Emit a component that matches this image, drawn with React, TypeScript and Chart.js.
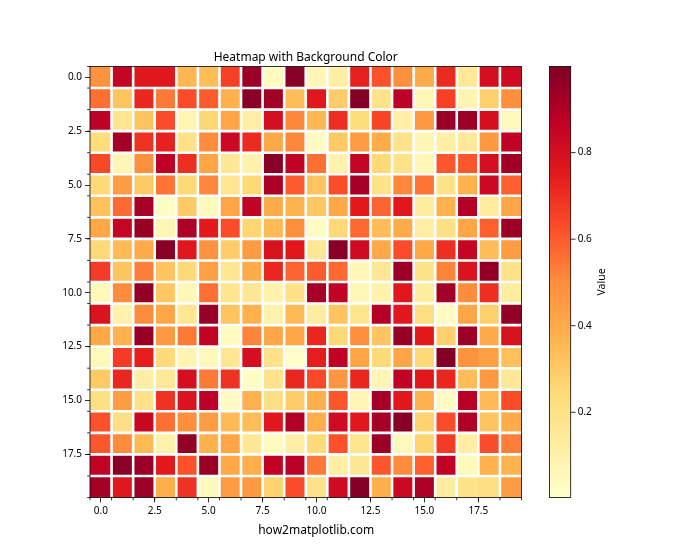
import React, { useEffect, useRef } from "react";
import { Chart, registerables } from "chart.js";

Chart.register(...registerables);

// ---- data (row by row) ----
const row00 = [0.48, 0.85, 0.76, 0.76, 0.36, 0.34, 0.66, 0.94, 0.04, 0.98, 0.07, 0.12, 0.73, 0.62, 0.49, 0.40, 0.71, 0.15, 0.80, 0.82];
const row01 = [0.56, 0.32, 0.72, 0.54, 0.63, 0.60, 0.38, 0.98, 0.93, 0.34, 0.76, 0.29, 0.99, 0.19, 0.87, 0.06, 0.66, 0.08, 0.28, 0.49];
const row02 = [0.87, 0.18, 0.32, 0.63, 0.07, 0.26, 0.42, 0.12, 0.80, 0.51, 0.36, 0.70, 0.23, 0.65, 0.11, 0.46, 0.94, 0.94, 0.80, 0.05];
const row03 = [0.23, 0.92, 0.69, 0.73, 0.20, 0.50, 0.83, 0.71, 0.41, 0.51, 0.03, 0.30, 0.45, 0.40, 0.19, 0.07, 0.11, 0.15, 0.46, 0.86];
const row04 = [0.64, 0.07, 0.49, 0.87, 0.70, 0.42, 0.16, 0.09, 0.98, 0.86, 0.56, 0.09, 0.85, 0.25, 0.19, 0.06, 0.61, 0.61, 0.80, 0.93];
const row05 = [0.25, 0.45, 0.30, 0.55, 0.25, 0.51, 0.17, 0.25, 0.91, 0.60, 0.32, 0.63, 0.92, 0.19, 0.51, 0.55, 0.19, 0.38, 0.83, 0.59];
const row06 = [0.33, 0.57, 0.92, 0.02, 0.30, 0.05, 0.42, 0.86, 0.40, 0.37, 0.31, 0.41, 0.75, 0.58, 0.76, 0.13, 0.38, 0.89, 0.14, 0.42];
const row07 = [0.41, 0.85, 0.95, 0.07, 0.91, 0.75, 0.63, 0.26, 0.35, 0.49, 0.02, 0.25, 0.57, 0.34, 0.40, 0.12, 0.21, 0.42, 0.59, 0.94];
const row08 = [0.25, 0.35, 0.40, 0.98, 0.76, 0.48, 0.29, 0.45, 0.79, 0.76, 0.16, 0.98, 0.82, 0.41, 0.63, 0.41, 0.70, 0.85, 0.34, 0.45];
const row09 = [0.67, 0.32, 0.53, 0.32, 0.25, 0.44, 0.17, 0.40, 0.72, 0.58, 0.60, 0.57, 0.06, 0.16, 0.94, 0.19, 0.52, 0.78, 0.96, 0.19];
const row10 = [0.05, 0.50, 0.96, 0.31, 0.06, 0.56, 0.18, 0.16, 0.09, 0.20, 0.92, 0.86, 0.06, 0.09, 0.76, 0.13, 0.93, 0.50, 0.70, 0.13];
const row11 = [0.78, 0.09, 0.50, 0.42, 0.17, 0.95, 0.32, 0.38, 0.09, 0.35, 0.13, 0.32, 0.18, 0.89, 0.76, 0.22, 0.03, 0.42, 0.28, 0.96];
const row12 = [0.41, 0.38, 0.95, 0.46, 0.54, 0.86, 0.04, 0.52, 0.42, 0.42, 0.72, 0.25, 0.49, 0.32, 0.95, 0.75, 0.28, 0.94, 0.40, 0.79];
const row13 = [0.05, 0.67, 0.74, 0.24, 0.08, 0.05, 0.17, 0.80, 0.19, 0.01, 0.74, 0.86, 0.42, 0.24, 0.42, 0.25, 0.99, 0.48, 0.44, 0.33];
const row14 = [0.30, 0.72, 0.12, 0.15, 0.80, 0.54, 0.69, 0.02, 0.19, 0.72, 0.64, 0.47, 0.72, 0.07, 0.86, 0.76, 0.72, 0.34, 0.46, 0.15];
const row15 = [0.21, 0.45, 0.20, 0.69, 0.78, 0.87, 0.03, 0.38, 0.21, 0.29, 0.39, 0.61, 0.07, 0.92, 0.76, 0.38, 0.03, 0.88, 0.35, 0.63];
const row16 = [0.62, 0.21, 0.84, 0.56, 0.49, 0.45, 0.35, 0.34, 0.76, 0.90, 0.39, 0.82, 0.76, 0.92, 0.98, 0.27, 0.63, 0.90, 0.32, 0.40];
const row17 = [0.61, 0.50, 0.35, 0.09, 0.96, 0.38, 0.42, 0.16, 0.04, 0.12, 0.24, 0.62, 0.18, 0.94, 0.05, 0.27, 0.67, 0.12, 0.63, 0.53];
const row18 = [0.86, 0.98, 0.94, 0.75, 0.62, 0.95, 0.41, 0.39, 0.86, 0.88, 0.54, 0.12, 0.16, 0.61, 0.50, 0.59, 0.86, 0.05, 0.38, 0.37];
const row19 = [0.92, 0.76, 0.94, 0.39, 0.69, 0.05, 0.45, 0.46, 0.27, 0.63, 0.19, 0.82, 0.99, 0.39, 0.83, 0.91, 0.13, 0.19, 0.21, 0.45];

const heatRows = [row00, row01, row02, row03, row04, row05, row06, row07, row08, row09,
  row10, row11, row12, row13, row14, row15, row16, row17, row18, row19];

// cell boundaries where the reference shows no white separator: [row, leftColumn]
const joinedVertical: [number, number][] = [[0, 2], [13, 17], [19, 17]];
// [upperRow, column]
const joinedHorizontal: [number, number][] = [];

const xTickValues = [0, 2.5, 5, 7.5, 10, 12.5, 15, 17.5];
const yTickValues = [0, 2.5, 5, 7.5, 10, 12.5, 15, 17.5];
const colorbarTicks = [0.2, 0.4, 0.6, 0.8];
const vMin = 0.003;
const vMax = 0.999;

const titleText = "Heatmap with Background Color";
const footerText = "how2matplotlib.com";
const colorbarLabel = "Value";

const FONT = "'Noto Sans', 'DejaVu Sans', sans-serif";

// YlOrRd colormap anchors
const YLORRD = ["#ffffcc", "#ffeda0", "#fed976", "#feb24c", "#fd8d3c", "#fc4e2a", "#e31a1c", "#bd0026", "#800026"];
const YLORRD_RGB = YLORRD.map((h) => [parseInt(h.slice(1, 3), 16), parseInt(h.slice(3, 5), 16), parseInt(h.slice(5, 7), 16)]);

function colorFor(v: number): string {
  let t = (v - vMin) / (vMax - vMin);
  t = Math.max(0, Math.min(1, t));
  const s = t * (YLORRD_RGB.length - 1);
  const i = Math.min(YLORRD_RGB.length - 2, Math.floor(s));
  const f = s - i;
  const a = YLORRD_RGB[i];
  const b = YLORRD_RGB[i + 1];
  const c = a.map((av, k) => Math.round(av + (b[k] - av) * f));
  return `rgb(${c[0]},${c[1]},${c[2]})`;
}

const separatorPlugin = {
  id: "separators",
  afterDatasetsDraw(chart: any) {
    const { ctx, scales } = chart;
    const xs = scales.x;
    const ys = scales.y;
    const nRows = heatRows.length;
    const nCols = heatRows[0].length;
    const jv = new Set(joinedVertical.map(([r, c]) => `${r}-${c}`));
    const jh = new Set(joinedHorizontal.map(([r, c]) => `${r}-${c}`));
    ctx.save();
    ctx.strokeStyle = "#ffffff";
    ctx.lineWidth = 2.6;
    ctx.lineCap = "butt";
    ctx.beginPath();
    // vertical separators
    for (let c = 0; c < nCols - 1; c++) {
      const px = xs.getPixelForValue(c + 0.5);
      for (let r = 0; r < nRows; r++) {
        if (jv.has(`${r}-${c}`)) continue;
        const y0 = ys.getPixelForValue(r - 0.5);
        const y1 = ys.getPixelForValue(r + 0.5);
        ctx.moveTo(px, y0);
        ctx.lineTo(px, y1);
      }
    }
    // horizontal separators
    for (let r = 0; r < nRows - 1; r++) {
      const py = ys.getPixelForValue(r + 0.5);
      for (let c = 0; c < nCols; c++) {
        if (jh.has(`${r}-${c}`)) continue;
        const x0 = xs.getPixelForValue(c - 0.5);
        const x1 = xs.getPixelForValue(c + 0.5);
        ctx.moveTo(x0, py);
        ctx.lineTo(x1, py);
      }
    }
    ctx.stroke();
    ctx.restore();
  },
};

const decorPlugin = {
  id: "decor",
  afterDraw(chart: any) {
    const { ctx, chartArea: a, scales } = chart;
    const xs = scales.x;
    const ys = scales.y;
    const cb = scales.cb;
    ctx.save();

    // minor ticks at cell boundaries
    ctx.strokeStyle = "#000";
    ctx.lineWidth = 0.8;
    ctx.beginPath();
    for (let i = 0; i <= heatRows[0].length; i++) {
      const px = xs.getPixelForValue(i - 0.5);
      ctx.moveTo(px, a.bottom);
      ctx.lineTo(px, a.bottom + 2.8);
    }
    for (let i = 0; i <= heatRows.length; i++) {
      const py = ys.getPixelForValue(i - 0.5);
      ctx.moveTo(a.left - 2.8, py);
      ctx.lineTo(a.left, py);
    }
    ctx.stroke();

    // spines
    ctx.strokeRect(a.left, a.top, a.right - a.left, a.bottom - a.top);

    // title
    ctx.fillStyle = "#000";
    ctx.font = `12px ${FONT}`;
    ctx.textAlign = "center";
    ctx.textBaseline = "alphabetic";
    ctx.fillText(titleText, (a.left + a.right) / 2, a.top - 6);

    // footer text
    ctx.fillText(footerText, (a.left + a.right) / 2 + 10.5, a.bottom + 36);

    // colorbar
    const cbLeft = a.right + 28;
    const cbWidth = 21.2;
    const pTop = cb.getPixelForValue(vMax);
    const pBot = cb.getPixelForValue(vMin);
    const grad = ctx.createLinearGradient(0, pBot, 0, pTop);
    YLORRD.forEach((c, i) => grad.addColorStop(i / (YLORRD.length - 1), c));
    ctx.fillStyle = grad;
    ctx.fillRect(cbLeft, pTop, cbWidth, pBot - pTop);
    ctx.strokeStyle = "#000";
    ctx.lineWidth = 0.8;
    ctx.strokeRect(cbLeft, pTop, cbWidth, pBot - pTop);

    ctx.font = `10px ${FONT}`;
    ctx.textAlign = "left";
    ctx.textBaseline = "middle";
    ctx.fillStyle = "#000";
    ctx.beginPath();
    colorbarTicks.forEach((v) => {
      const py = cb.getPixelForValue(v);
      ctx.moveTo(cbLeft + cbWidth, py);
      ctx.lineTo(cbLeft + cbWidth + 4.9, py);
      ctx.fillText(v.toFixed(1), cbLeft + cbWidth + 7, py);
    });
    ctx.stroke();

    // colorbar label
    ctx.save();
    ctx.translate(cbLeft + cbWidth + 31, (pTop + pBot) / 2);
    ctx.rotate(-Math.PI / 2);
    ctx.textAlign = "center";
    ctx.textBaseline = "middle";
    ctx.font = `10.5px ${FONT}`;
    ctx.fillText(colorbarLabel, 0, 0);
    ctx.restore();

    ctx.restore();
  },
};

export default function App() {
  const ref = useRef<HTMLCanvasElement>(null);

  useEffect(() => {
    const canvas = ref.current;
    if (!canvas) return;
    const cells = heatRows.flatMap((row, r) =>
      row.map((v, c) => ({ x: c, y: [r - 0.5, r + 0.5], v }))
    );
    const tickFmt = (v: any) => Number(v).toFixed(1);
    const chart = new Chart(canvas, {
      type: "bar",
      data: {
        datasets: [
          {
            data: cells as any,
            backgroundColor: cells.map((d) => colorFor(d.v)),
            borderWidth: 0,
            barPercentage: 1,
            categoryPercentage: 1,
          } as any,
        ],
      },
      options: {
        responsive: false,
        animation: false,
        devicePixelRatio: 1,
        events: [],
        layout: { padding: { left: 40, right: 178.5, top: 66.5, bottom: 32.5 } },
        plugins: {
          legend: { display: false },
          title: { display: false },
          tooltip: { enabled: false },
        },
        scales: {
          x: {
            type: "linear",
            min: -0.5,
            max: 19.5,
            offset: false,
            afterBuildTicks: (s: any) => {
              s.ticks = xTickValues.map((v) => ({ value: v }));
            },
            afterFit: (s: any) => {
              s.height = 30;
            },
            grid: { display: true, offset: false, drawOnChartArea: false, drawTicks: true, tickLength: 5, color: "#000", lineWidth: 0.8 },
            border: { display: false },
            ticks: { callback: tickFmt, autoSkip: false, maxRotation: 0, padding: 3, color: "#000", font: { family: FONT, size: 10 } },
          },
          y: {
            type: "linear",
            reverse: true,
            min: -0.5,
            max: 19.5,
            afterBuildTicks: (s: any) => {
              s.ticks = yTickValues.map((v) => ({ value: v }));
            },
            afterFit: (s: any) => {
              s.width = 50;
            },
            grid: { display: true, drawOnChartArea: false, drawTicks: true, tickLength: 5, color: "#000", lineWidth: 0.8 },
            border: { display: false },
            ticks: { callback: tickFmt, autoSkip: false, padding: 3, color: "#000", font: { family: FONT, size: 10 } },
          },
          cb: {
            type: "linear",
            axis: "y",
            position: "right",
            display: false,
            min: vMin,
            max: vMax,
          },
        } as any,
      },
      plugins: [separatorPlugin, decorPlugin],
    } as any);
    return () => chart.destroy();
  }, []);

  return (
    <div style={{ position: "absolute", left: 0, top: 0, width: 700, height: 560, background: "#ffffff" }}>
      <canvas ref={ref} width={700} height={560} style={{ width: 700, height: 560, display: "block" }} />
    </div>
  );
}
